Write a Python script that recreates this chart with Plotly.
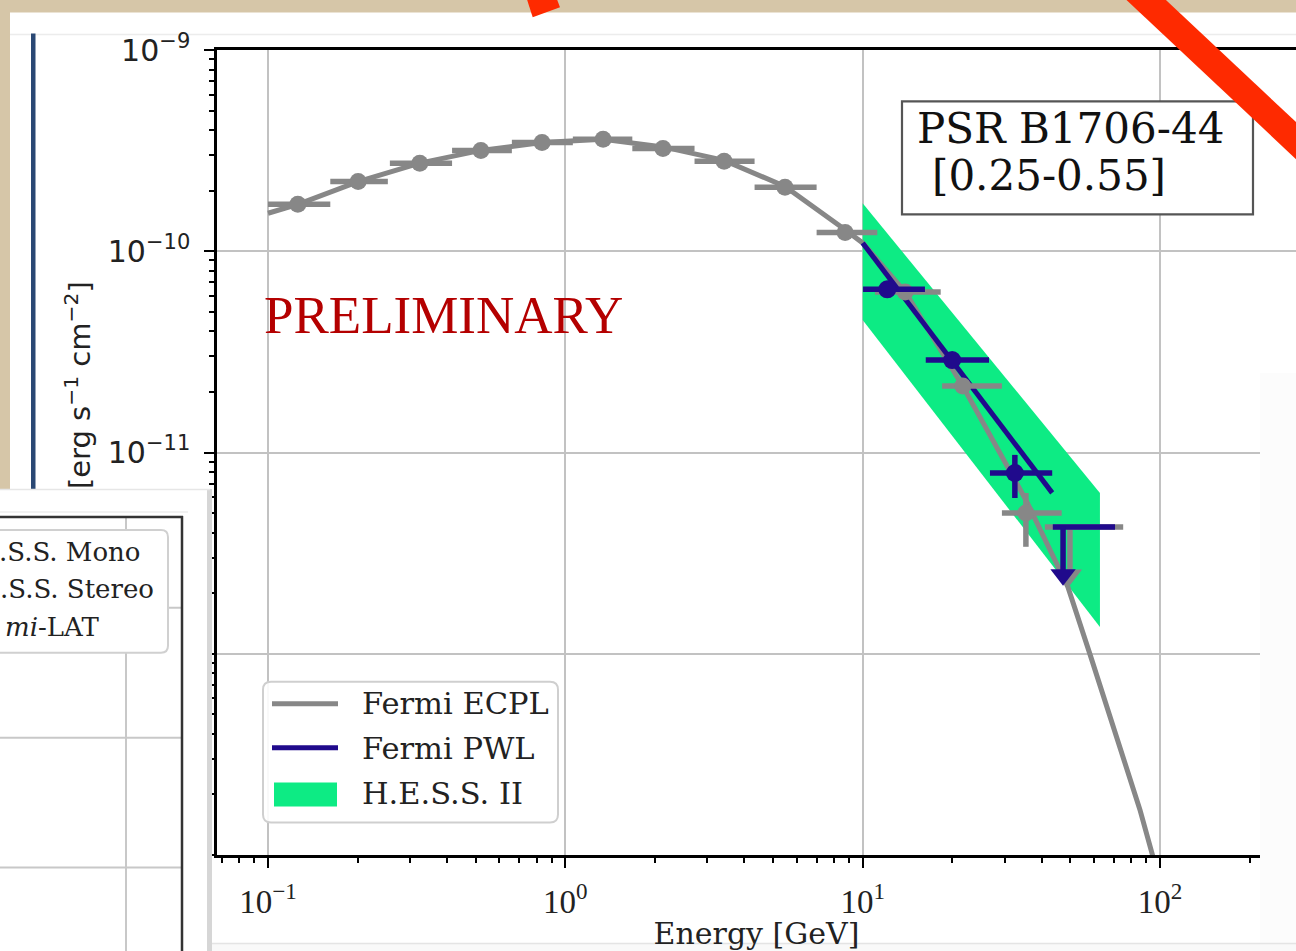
import plotly.graph_objects as go

# ---------------- data ----------------
# Fermi ECPL model curve (E in GeV, E^2 dN/dE in erg s^-1 cm^-2)
ecpl_energy = [0.1, 0.126, 0.201, 0.324, 0.52, 0.835, 1.34, 2.13, 3.42, 5.48, 8.73, 10.0,
               13.9, 21.7, 35.4, 49.0, 58.2, 71.7, 85.6, 94.7, 100.0]
ecpl_flux = [1.545e-10, 1.71e-10, 2.22e-10, 2.74e-10, 3.17e-10, 3.47e-10, 3.60e-10, 3.30e-10,
             2.83e-10, 2.10e-10, 1.28e-10, 1.10e-10, 6.27e-11, 2.14e-11, 5.81e-12, 2.15e-12,
             9.9e-13, 3.73e-13, 1.68e-13, 9.8e-14, 8.2e-14]

# Fermi PWL model line
pwl_energy = [10.0, 43.4]
pwl_flux = [1.10e-10, 6.30e-12]

# H.E.S.S. II butterfly band
hess_energy = [10.0, 62.8]
hess_upper = [1.73e-10, 6.30e-12]
hess_lower = [4.55e-11, 1.36e-12]

# Fermi-LAT flux points (grey)
lat_e = [0.126, 0.201, 0.324, 0.520, 0.835, 1.34, 2.13, 3.42, 5.48, 8.73, 13.9, 21.7, 35.4]
lat_f = [1.71e-10, 2.22e-10, 2.74e-10, 3.17e-10, 3.47e-10, 3.60e-10, 3.24e-10, 2.80e-10,
         2.08e-10, 1.24e-10, 6.27e-11, 2.14e-11, 5.01e-12]
lat_e_lo = [0.100, 0.162, 0.257, 0.416, 0.661, 1.06, 1.68, 2.72, 4.33, 7.00, 11.0, 18.5, 29.4]
lat_e_hi = [0.162, 0.253, 0.416, 0.661, 1.06, 1.68, 2.72, 4.33, 7.00, 11.2, 18.3, 29.4, 46.7]
lat_f_lo = [1.71e-10, 2.22e-10, 2.74e-10, 3.17e-10, 3.47e-10, 3.60e-10, 3.24e-10, 2.80e-10,
            2.08e-10, 1.24e-10, 6.27e-11, 2.14e-11, 3.40e-12]
lat_f_hi = [1.71e-10, 2.22e-10, 2.74e-10, 3.17e-10, 3.47e-10, 3.60e-10, 3.24e-10, 2.80e-10,
            2.08e-10, 1.24e-10, 6.27e-11, 2.14e-11, 6.29e-12]
lat_ul_e, lat_ul_f, lat_ul_lo, lat_ul_hi, lat_ul_tip = 49.8, 4.27e-12, 41.0, 75.2, 2.47e-12

# Fermi PWL-binned points (blue)
pts_e = [12.1, 20.0, 32.5]
pts_f = [6.47e-11, 2.88e-11, 7.91e-12]
pts_e_lo = [10.03, 16.3, 26.8]
pts_e_hi = [16.2, 26.6, 43.4]
pts_f_lo = [6.47e-11, 2.88e-11, 5.94e-12]
pts_f_hi = [6.47e-11, 2.88e-11, 9.73e-12]
pts_ul_e, pts_ul_f, pts_ul_lo, pts_ul_hi, pts_ul_tip = 47.2, 4.27e-12, 43.6, 70.6, 2.47e-12

x_major = [0.1, 1, 10, 100]
x_major_text = ["10<sup>−1</sup>", "10<sup>0</sup>", "10<sup>1</sup>", "10<sup>2</sup>"]
y_major = [1e-13, 1e-12, 1e-11, 1e-10, 1e-9]
y_major_text = ["10<sup>−13</sup>", "10<sup>−12</sup>", "10<sup>−11</sup>", "10<sup>−10</sup>", "10<sup>−9</sup>"]

# ---------------- styling ----------------
GREY = "#878787"
BLUE = "#200a8c"
GREEN = "#0deb84"
RED = "#fe2a00"
W, H = 1296, 951
L, T, B = 217, 49.5, 95.5
PW, PH = W - L, H - T - B


def X(px):
    return (px - L) / PW


def Y(py):
    return (H - B - py) / PH


def rect(x0, y0, x1, y1, fill, line_color=None, lw=0, layer="above"):
    return dict(type="rect", xref="paper", yref="paper", x0=X(x0), x1=X(x1), y0=Y(y1), y1=Y(y0),
                fillcolor=fill, line=dict(color=line_color or fill, width=lw), layer=layer)


def hline(x0, x1, y, color, lw, layer="above"):
    return dict(type="line", xref="paper", yref="paper", x0=X(x0), x1=X(x1), y0=Y(y), y1=Y(y),
                line=dict(color=color, width=lw), layer=layer)


def vline(x, y0, y1, color, lw, layer="above"):
    return dict(type="line", xref="paper", yref="paper", x0=X(x), x1=X(x), y0=Y(y0), y1=Y(y1),
                line=dict(color=color, width=lw), layer=layer)


def rrect(x0, y0, x1, y1, r, fill, line_color, lw):
    def p(a, b):
        return f"{X(a):.5f},{Y(b):.5f}"
    path = (f"M {p(x0 + r, y0)} L {p(x1 - r, y0)} Q {p(x1, y0)} {p(x1, y0 + r)} "
            f"L {p(x1, y1 - r)} Q {p(x1, y1)} {p(x1 - r, y1)} L {p(x0 + r, y1)} "
            f"Q {p(x0, y1)} {p(x0, y1 - r)} L {p(x0, y0 + r)} Q {p(x0, y0)} {p(x0 + r, y0)} Z")
    return dict(type="path", xref="paper", yref="paper", path=path, fillcolor=fill,
                line=dict(color=line_color, width=lw), layer="above")


def err(vals, lo, hi):
    return ([h - v for v, h in zip(vals, hi)], [v - l for v, l in zip(vals, lo)])


fig = go.Figure()

# H.E.S.S. II band
fig.add_trace(go.Scatter(
    x=hess_energy + hess_energy[::-1], y=hess_upper + hess_lower[::-1],
    fill="toself", fillcolor=GREEN, line=dict(width=0), mode="lines",
    name="H.E.S.S. II", showlegend=False, hoverinfo="skip"))

# Fermi ECPL curve
fig.add_trace(go.Scatter(x=ecpl_energy, y=ecpl_flux, mode="lines",
                         line=dict(color=GREY, width=5), name="Fermi ECPL", showlegend=False))

# Fermi PWL line
fig.add_trace(go.Scatter(x=pwl_energy, y=pwl_flux, mode="lines",
                         line=dict(color=BLUE, width=5), name="Fermi PWL", showlegend=False))

# grey flux points
ex_p, ex_m = err(lat_e, lat_e_lo, lat_e_hi)
ey_p, ey_m = err(lat_f, lat_f_lo, lat_f_hi)
fig.add_trace(go.Scatter(
    x=lat_e, y=lat_f, mode="markers", marker=dict(color=GREY, size=17),
    error_x=dict(type="data", array=ex_p, arrayminus=ex_m, color=GREY, thickness=5.5, width=0),
    error_y=dict(type="data", array=ey_p, arrayminus=ey_m, color=GREY, thickness=5.5, width=0),
    showlegend=False, name="Fermi-LAT"))

# grey upper limit
fig.add_trace(go.Scatter(
    x=[lat_ul_lo, lat_ul_hi, None, lat_ul_e, lat_ul_e],
    y=[lat_ul_f, lat_ul_f, None, lat_ul_f, lat_ul_tip],
    mode="lines", line=dict(color=GREY, width=5.5), showlegend=False, hoverinfo="skip"))
fig.add_trace(go.Scatter(x=[lat_ul_e], y=[lat_ul_tip], mode="markers",
                         marker=dict(symbol="triangle-down", size=21, color=GREY),
                         showlegend=False, hoverinfo="skip"))

# blue flux points
bx_p, bx_m = err(pts_e, pts_e_lo, pts_e_hi)
by_p, by_m = err(pts_f, pts_f_lo, pts_f_hi)
fig.add_trace(go.Scatter(
    x=pts_e, y=pts_f, mode="markers", marker=dict(color=BLUE, size=18),
    error_x=dict(type="data", array=bx_p, arrayminus=bx_m, color=BLUE, thickness=5.5, width=0),
    error_y=dict(type="data", array=by_p, arrayminus=by_m, color=BLUE, thickness=5.5, width=0),
    showlegend=False, name="Fermi PWL points"))

# blue upper limit
fig.add_trace(go.Scatter(
    x=[pts_ul_lo, pts_ul_hi, None, pts_ul_e, pts_ul_e],
    y=[pts_ul_f, pts_ul_f, None, pts_ul_f, pts_ul_tip],
    mode="lines", line=dict(color=BLUE, width=5.5), showlegend=False, hoverinfo="skip"))
fig.add_trace(go.Scatter(x=[pts_ul_e], y=[pts_ul_tip], mode="markers",
                         marker=dict(symbol="triangle-down", size=22, color=BLUE),
                         showlegend=False, hoverinfo="skip"))

x_minor = [m * d for d in (0.01, 0.1, 1, 10, 100) for m in range(2, 10)]
x_minor = [v for v in x_minor if 0.067 < v < 287]
y_minor = [m * d for d in (1e-13, 1e-12, 1e-11, 1e-10) for m in range(2, 10)]

fig.update_xaxes(
    type="log", range=[-1.1715, 2.4574], tickmode="array", tickvals=x_major, ticktext=x_major_text,
    showgrid=True, gridcolor="#c2c2c2", gridwidth=2, zeroline=False,
    showline=True, linecolor="black", linewidth=2.5, mirror=True,
    ticks="outside", ticklen=10, tickwidth=2, tickcolor="black", ticklabelstandoff=6,
    tickfont=dict(family="Liberation Serif", size=33, color="#222"),
    minor=dict(tickmode="array", tickvals=x_minor, ticks="outside", ticklen=5, tickwidth=1.5,
               tickcolor="black", showgrid=False),
    title=dict(text="Energy [GeV]", font=dict(family="DejaVu Serif", size=30, color="#222"), standoff=12),
)
fig.update_yaxes(
    type="log", range=[-13, -9], tickmode="array", tickvals=y_major, ticktext=y_major_text,
    showgrid=True, gridcolor="#c2c2c2", gridwidth=2, zeroline=False,
    showline=True, linecolor="black", linewidth=2.5, mirror=False,
    ticks="outside", ticklen=10, tickwidth=2, tickcolor="black", ticklabelstandoff=8,
    tickfont=dict(family="DejaVu Sans", size=30, color="#222"),
    minor=dict(tickmode="array", tickvals=y_minor, ticks="outside", ticklen=5, tickwidth=1.5,
               tickcolor="black", showgrid=False),
)

shapes = [
    rect(10, 12, 1310, 970, "white", layer="below"),
    hline(10, 1300, 34, "#ececec", 1.5, layer="below"),
    rect(31, 33, 35.5, 489, "#2a4874"),
    # PSR label box
    rect(902, 101, 1253, 214, "white", "#555555", 2.2),
    # legend box and samples
    rrect(263, 682, 558, 823, 8, "rgba(255,255,255,0.9)", "#cfcfcf", 2),
    hline(272, 338, 704, GREY, 5),
    hline(272, 338, 748, BLUE, 5),
    rect(274, 783, 337, 807, GREEN),
    # right-hand cover and bottom strip (photo overlap)
    rect(1260, 373, 1310, 970, "#fcfcfc"),
    rect(212, 944, 1310, 970, "#f9f9f9"),
    hline(212, 1310, 944, "#e4e4e4", 1.5),
    # overlapping second panel (bottom left)
    rect(-10, 489, 209, 970, "white"),
    rect(207, 489, 212, 970, "#d6d6d6"),
    hline(-10, 210, 489.5, "#e6e6e6", 1.5),
    hline(-10, 188, 512, "#ececec", 1.5),
    vline(126, 517, 970, "#c8c8c8", 2),
    hline(-10, 182, 608, "#c8c8c8", 2),
    hline(-10, 182, 738, "#c8c8c8", 2),
    hline(-10, 182, 868, "#c8c8c8", 2),
    hline(-10, 183, 517, "#333333", 2.5),
    vline(182, 516, 970, "#333333", 2.5),
    rrect(-20, 530, 168, 653, 7, "white", "#d0d0d0", 2),
    # red strokes of the slide
    dict(type="line", xref="paper", yref="paper", x0=X(1117), y0=Y(-28), x1=X(1333), y1=Y(175),
         line=dict(color=RED, width=27), layer="above"),
    dict(type="path", xref="paper", yref="paper",
         path=f"M {X(526.7)},{Y(-2)} L {X(556.7)},{Y(-2)} L {X(560)},{Y(6.7)} L {X(532.7)},{Y(16.7)} Z",
         fillcolor=RED, line=dict(width=0), layer="above"),
]

annotations = [
    dict(text="[erg s<sup>−1</sup> cm<sup>−2</sup>]", x=X(57), y=Y(385), textangle=-90,
         font=dict(family="DejaVu Sans", size=29, color="#222")),
    dict(text="PRELIMINARY", x=X(262), y=Y(315), xanchor="left",
         font=dict(family="Liberation Serif", size=53, color="#b40000")),
    dict(text="PSR B1706-44", x=X(915), y=Y(128), xanchor="left",
         font=dict(family="DejaVu Serif", size=42, color="#111")),
    dict(text="[0.25-0.55]", x=X(930), y=Y(175), xanchor="left",
         font=dict(family="DejaVu Serif", size=42, color="#111")),
    dict(text="Fermi ECPL", x=X(360), y=Y(704), xanchor="left",
         font=dict(family="DejaVu Serif", size=30.5, color="#222")),
    dict(text="Fermi PWL", x=X(360), y=Y(749), xanchor="left",
         font=dict(family="DejaVu Serif", size=30.5, color="#222")),
    dict(text="H.E.S.S. II", x=X(360), y=Y(794), xanchor="left",
         font=dict(family="DejaVu Serif", size=30.5, color="#222")),
    # visible fragments of the partly hidden second panel's legend
    dict(text=".S.S. Mono", x=X(143), y=Y(552), xanchor="right",
         font=dict(family="DejaVu Serif", size=26, color="#222")),
    dict(text=".S.S. Stereo", x=X(156), y=Y(589), xanchor="right",
         font=dict(family="DejaVu Serif", size=26, color="#222")),
    dict(text="<i>mi</i>-LAT", x=X(101), y=Y(627), xanchor="right",
         font=dict(family="DejaVu Serif", size=26, color="#222")),
]
for a in annotations:
    a.update(xref="paper", yref="paper", showarrow=False, yanchor="middle")

fig.update_layout(
    width=W, height=H, margin=dict(l=L, r=0, t=T, b=B, autoexpand=False),
    paper_bgcolor="#d6c6a8", plot_bgcolor="white",
    shapes=shapes, annotations=annotations, showlegend=False,
)

fig.write_html("out.html")
